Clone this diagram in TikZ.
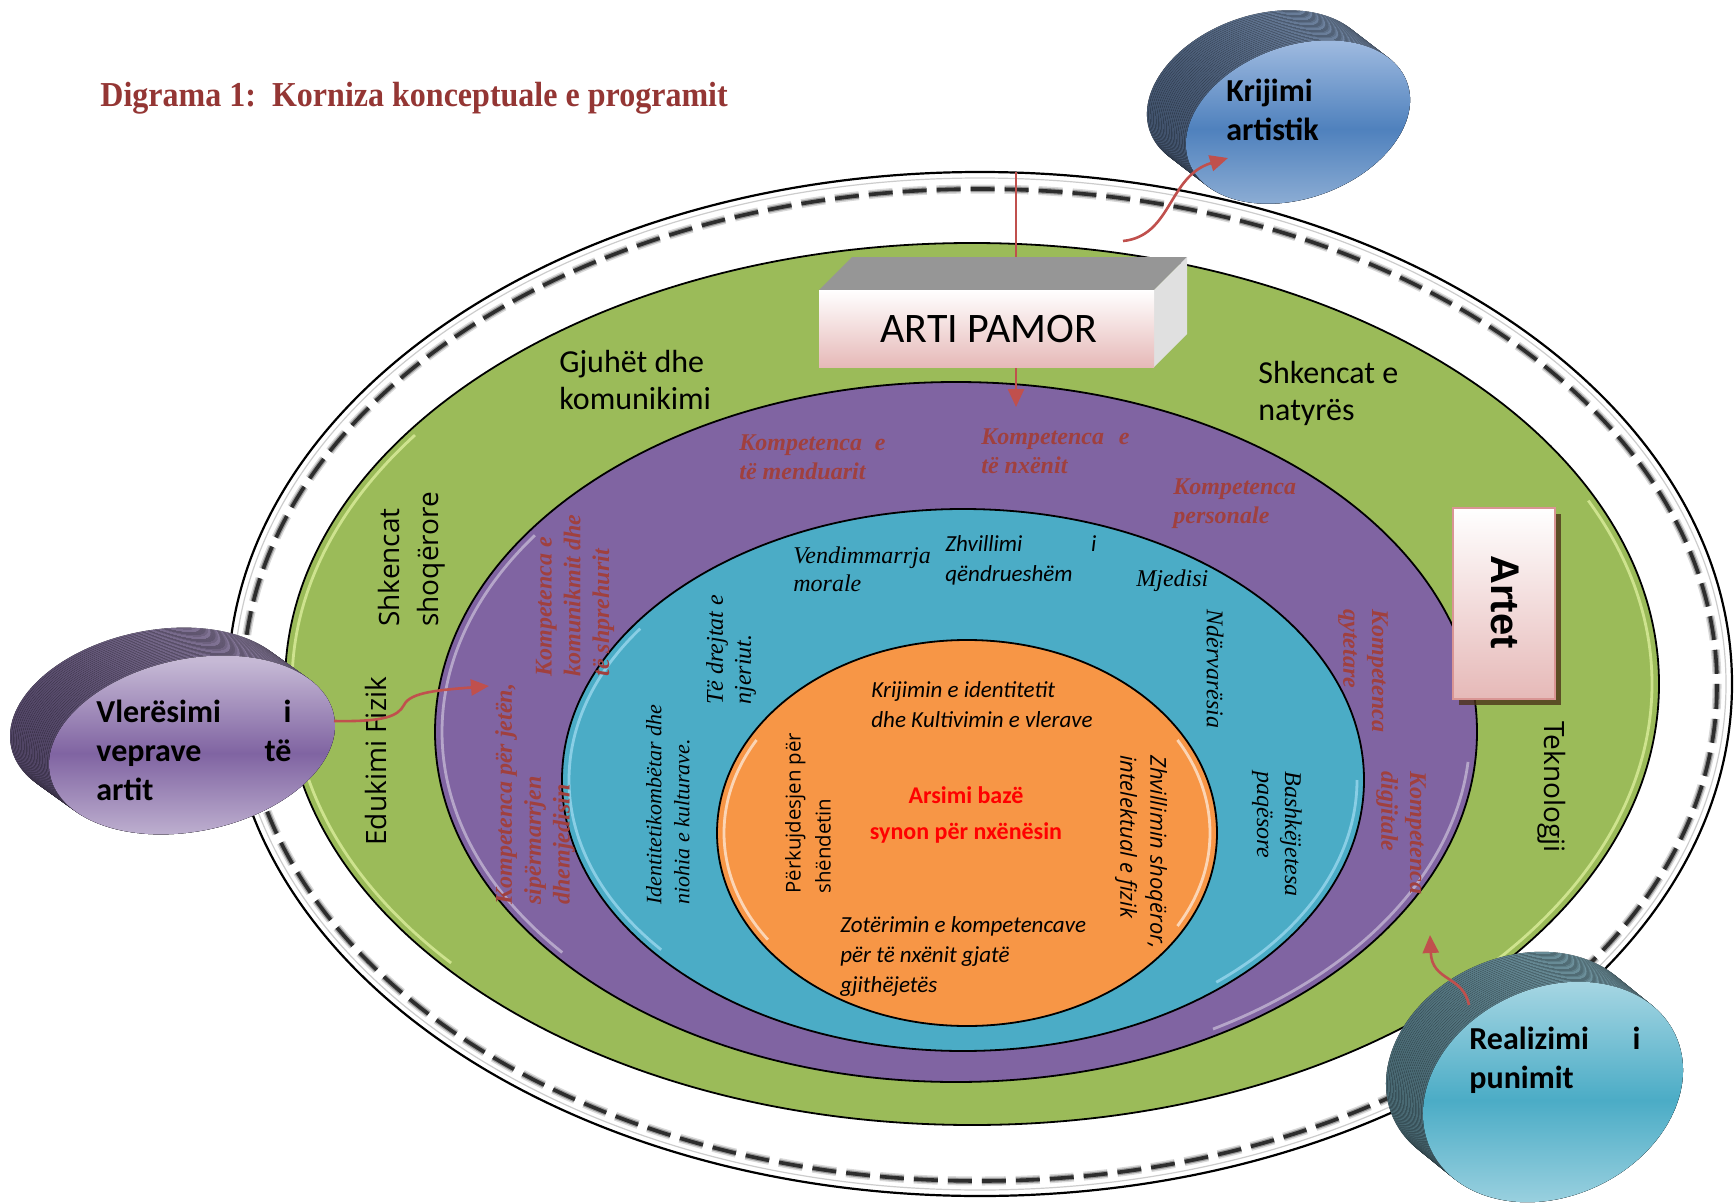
\documentclass[tikz,border=0pt]{standalone}
\usepackage{fontspec}
\usepackage{graphicx}
\setmainfont{Liberation Serif}
\newfontfamily\calf{Carlito}
\newfontfamily\osans{Open Sans}
\newfontfamily\lsans{Liberation Sans}
\usetikzlibrary{arrows.meta}
\definecolor{grn}{HTML}{9BBB59}
\definecolor{pur}{HTML}{8064A2}
\definecolor{tea}{HTML}{4BACC6}
\definecolor{orn}{HTML}{F79646}
\definecolor{ttl}{HTML}{943634}
\definecolor{kred}{HTML}{A0403E}
\definecolor{arr}{HTML}{C0504D}
\definecolor{pnk}{HTML}{E6B9B8}
\definecolor{pnkb}{HTML}{D99594}
\definecolor{kside1}{HTML}{3F5069}
\definecolor{kside2}{HTML}{8197B5}
\definecolor{kf1}{HTML}{9DB9DF}
\definecolor{kf2}{HTML}{4F81BD}
\definecolor{kf3}{HTML}{95B3D7}
\definecolor{vside1}{HTML}{4F4363}
\definecolor{vside2}{HTML}{9A8CAE}
\definecolor{rside1}{HTML}{46656F}
\definecolor{rside2}{HTML}{80A6B2}
\newcommand\myfs[2]{\fontsize{#1}{#2}\selectfont}
% stacked side of a 3D disc
\newcommand\mydisc[9]{%
  \foreach \k in {0,...,24}{%
    \begin{scope}[shift={({#1-#6*(1-\k/24)},{#2-#7*(1-\k/24)})},rotate=#5]
      \fill[left color=#8,right color=#9] (0,0) ellipse [x radius=#3,y radius=#4];
    \end{scope}}%
}
\newcommand\myface[8]{%
  \begin{scope}[shift={(#1,#2)},rotate=#5]
    \fill[top color=#6,bottom color=#8,middle color=#7] (0,0) ellipse [x radius=#3,y radius=#4];
  \end{scope}%
}
\newcommand\glowarc[7]{%
  \draw[glow,#7] ({#1+#3*cos(#5)},{#2+#4*sin(#5)}) arc[start angle=#5,end angle=#6,x radius=#3,y radius=#4];%
}
\begin{document}
\begin{tikzpicture}[x=0.5pt,y=-0.5pt,
  ring/.style={draw=black,line width=0.9pt},
  glow/.style={line width=1.4pt,opacity=0.6},
  band/.style={black,dash pattern=on 12pt off 5pt},
  redarr/.style={draw=arr,line width=1.3pt,-{Triangle[length=9pt,width=8pt]}},
  kom/.style={text=kred,font=\bfseries\itshape\myfs{12}{14.4},inner sep=0pt,align=left},
  tl/.style={font=\itshape\myfs{12}{14},inner sep=0pt,align=left},
  cl/.style={font=\calf\itshape\myfs{11.5}{15},inner sep=0pt,align=left},
  ol/.style={font=\osans\itshape\myfs{11}{15},inner sep=0pt,align=left},
  subj/.style={font=\calf\myfs{16}{18.5},inner sep=0pt,align=left},
  subjw/.style={font=\osans\myfs{14}{19.5},inner sep=0pt,align=left},
  disctxt/.style={font=\calf\bfseries\myfs{16}{19.5},inner sep=0pt,align=left}]
\useasboundingbox (0,0) rectangle (1735,1204);

% title
\node[anchor=base west,inner sep=0pt,text=ttl] (title) at (100,107)
  {\scalebox{0.915}[1]{\myfs{17.5}{20}\bfseries Digrama 1:\ \ Korniza konceptuale e programit}};

% outer ring
\draw[ring,fill=white,line width=1.1pt] (980,684) ellipse [x radius=752, y radius=512];
\draw[black!50,line width=0.6pt,opacity=.4] (980,684) ellipse [x radius=746, y radius=506];
\draw[band,line width=4.5pt,opacity=.15] (980,685) ellipse [x radius=737, y radius=496];
\draw[band,line width=3pt,opacity=.3] (980,685) ellipse [x radius=737, y radius=496];
\draw[band,line width=1.8pt,opacity=.7] (980,685) ellipse [x radius=737, y radius=496];

% rings
\draw[ring,fill=grn] (972,684) ellipse [x radius=687, y radius=441];
\glowarc{972}{684}{680}{434}{140}{215}{draw=green!20!yellow!30!white}
\glowarc{972}{684}{680}{434}{-25}{45}{draw=green!20!yellow!30!white}
\draw[ring,fill=pur] (956,732) ellipse [x radius=521, y radius=350];
\glowarc{956}{732}{514}{343}{140}{215}{draw=pur!30!white}
\glowarc{956}{732}{514}{343}{5}{60}{draw=pur!30!white}
\draw[ring,fill=tea] (963,780) ellipse [x radius=401, y radius=271];
\glowarc{963}{780}{394}{264}{140}{215}{draw=cyan!30!white}
\glowarc{963}{780}{394}{264}{0}{50}{draw=cyan!30!white}
\draw[ring,fill=orn] (967,833) ellipse [x radius=250, y radius=193];
\glowarc{967}{833}{243}{186}{145}{210}{draw=white}
\glowarc{967}{833}{243}{186}{-30}{30}{draw=white}

% vertical red arrow (behind box)
\coordinate (pA) at (1016,172);
\coordinate (pB) at (1016,407);
\draw[redarr] (pA) -- (pB);

% ARTI PAMOR box
\fill[black!41] (819,290) -- (852,257) -- (1187,257) -- (1154,290) -- cycle;
\fill[black!12] (1154,290) -- (1187,257) -- (1187,334) -- (1154,367) -- cycle;
\fill[top color=white,bottom color=pnk] (819,290) rectangle (1154,367);
\node[font=\calf\myfs{21}{24},inner sep=0pt] (artipamor) at (989,329) {ARTI PAMOR};

% Artet box
\fill[black!60!brown,opacity=.8] (1459,514) rectangle (1561,705);
\draw[draw=pnkb,line width=1.3pt,top color=white,bottom color=pnk] (1453,508) rectangle (1555,699);
\node[rotate=-90,font=\lsans\bfseries\myfs{20}{22},inner sep=0pt] (artet) at (1505,602) {Artet};

% subject texts
\node[subj,anchor=west] (gjuhet) at (559,380) {Gjuhët dhe\\komunikimi};
\node[subj,anchor=west] (natyres) at (1258,393) {Shkencat e\\natyrës};
\node[subjw,rotate=90,anchor=west] (shoq) at (412,627) {Shkencat\\shoqërore};
\node[subjw,rotate=90,anchor=west] (eduk) at (376,846) {Edukimi Fizik};
\node[subjw,rotate=-90,anchor=west] (tekno) at (1552,721) {Teknologji};

% competences
\node[kom,anchor=west] (k1) at (739,457) {\hbox to 73pt{Kompetenca\hfill e}\\të menduarit};
\node[kom,anchor=west] (k2) at (981,451) {\hbox to 74pt{Kompetenca\hfill e}\\të nxënit};
\node[kom,anchor=west] (k3) at (1173,504) {Kompetenca\\personale};
\node[kom,rotate=90,anchor=west] (k4) at (575,677) {Kompetenca e\\komunikmit dhe\\të shprehurit};
\node[kom,rotate=90,anchor=west] (k5) at (535,905) {Kompetenca për jetën,\\sipërmarrjen\\dhemjedisin};
\node[kom,rotate=-90,anchor=west] (k6) at (1363,609) {Kompetenca\\qytetare};
\node[kom,rotate=-90,anchor=west] (k7) at (1401,771) {Kompetenca\\digjitale};

% teal ring texts
\node[tl,anchor=west] (t1) at (793,569) {Vendimmarrja\\morale};
\node[cl,anchor=west] (t2) at (945,560) {\hbox to 75.5pt{Zhvillimi\hfill i}\\qëndrueshëm};
\node[tl,anchor=west] (t3) at (1136,581) {Mjedisi};
\node[tl,rotate=-90,anchor=west] (t4) at (1215,609) {Ndërvarësia};
\node[tl,rotate=-90,anchor=west] (t5) at (1277,771) {Bashkëjetesa\\paqësore};
\node[tl,rotate=90,anchor=west] (t6) at (731,705) {Të drejtat e\\njeriut.};
\node[tl,font=\itshape\myfs{11}{14},rotate=90,anchor=west] (t7) at (668,905) {Identitetikombëtar dhe\\niohia e kulturave.};

% orange texts
\node[cl,anchor=west] (o1) at (871,705) {Krijimin e identitetit\\dhe Kultivimin e vlerave};
\node[font=\calf\bfseries\myfs{12}{18},text=red,align=center,inner sep=0pt] (o2) at (966,815) {Arsimi bazë\\synon për nxënësin};
\node[font=\osans\myfs{10.2}{15},align=left,inner sep=0pt,rotate=90,anchor=west] (o3) at (808,894) {Përkujdesjen për\\shëndetin};
\node[ol,rotate=-90,anchor=west] (o4) at (1141,755) {Zhvillimin shoqëror,\\intelektual e fizik};
\node[cl,anchor=west] (o5) at (840,956) {Zotërimin e kompetencave\\për të nxënit gjatë\\gjithëjetës};

% discs
\mydisc{1298}{122}{116}{76}{20}{39}{30}{kside1}{kside2}
\myface{1298}{122}{116}{76}{20}{kf1}{kf2}{kf3}
\mydisc{192}{745}{145}{86}{12}{39}{28}{vside1}{vside2}
\myface{192}{745}{145}{86}{12}{pur!45!white}{pur}{pur!45!white}
\mydisc{1553}{1092}{135}{104}{25}{37}{30}{rside1}{rside2}
\myface{1553}{1092}{135}{104}{25}{tea!50!white}{tea}{tea!50!white}

\node[disctxt,anchor=west] (krijimi) at (1226,110) {Krijimi\\artistik};
\node[disctxt,anchor=west] (vler) at (96,750) {\hbox to 97.5pt{Vlerësimi\hfill i}\\\hbox to 97.5pt{veprave\hfill të}\\artit};
\node[disctxt,anchor=west] (real) at (1469,1060) {\hbox to 85.5pt{Realizimi\hfill i}\\punimit};

% curved arrows
\coordinate (kA) at (1123,241);
\coordinate (kB) at (1228,158);
\draw[redarr] (kA) .. controls (1172,236) and (1168,176) .. (kB);
\coordinate (vA) at (334,721);
\coordinate (vB) at (489,686);
\draw[redarr] (vA) .. controls (385,722) and (398,716) .. (404,705) .. controls (410,692) and (440,690) .. (vB);
\coordinate (rA) at (1469,1005);
\coordinate (rB) at (1430,935);
\draw[redarr] (rA) .. controls (1463,975) and (1432,982) .. (rB);
\end{tikzpicture}
\end{document}
